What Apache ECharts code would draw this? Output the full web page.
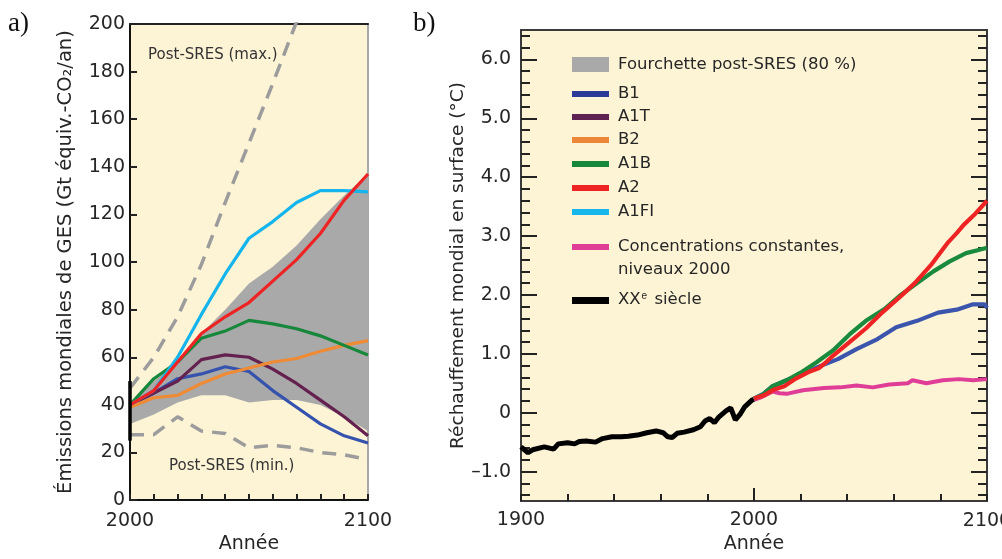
<!DOCTYPE html>
<html>
<head>
<meta charset="utf-8">
<script src="https://cdn.jsdelivr.net/npm/echarts@6/dist/echarts.min.js"></script>
<style>
html, body { margin: 0; padding: 0; background: #fff; }
#main { width: 1002px; height: 559px; }
</style>
</head>
<body>
<div id="main"></div>
<script>
var dom = document.getElementById("main");
var myChart = echarts.init(dom);

// --- a) emissions, every 10 years
var years = [2000, 2010, 2020, 2030, 2040, 2050, 2060, 2070, 2080, 2090, 2100];
var emB1   = [40, 45, 51, 53, 56, 54, 46, 39, 32, 27, 24];
var emA1T  = [40, 45, 50, 59, 61, 60, 55, 49, 42, 35, 27];
var emB2   = [39, 43, 44, 49, 53, 55.5, 58, 59.5, 62.5, 65, 67];
var emA1B  = [40, 51, 58, 68, 71, 75.5, 74, 72, 69, 65, 61];
var emA2   = [40, 46, 58, 70, 77, 83, 92, 101, 112, 126, 137];
var emA1FI = [40, 46, 60, 78, 95, 110, 117, 125, 130, 130, 129.5];
var bandLow  = [32, 36, 41, 44, 44, 41, 42, 42, 40, 35, 29];
var bandHigh = [40, 50, 58, 70, 80, 91, 98, 107, 118, 128, 137];
var postMax = [47, 60, 77, 99, 125, 150, 175, 201, 226];
var postMin = [27.5, 27.5, 35, 29, 28, 22, 23, 22, 20, 19, 17];
var range2000 = [25, 50];

// --- b) warming
var tempXX = [[1900,-0.58],[1903,-0.68],[1905,-0.63],[1910,-0.58],[1914,-0.62],[1916,-0.53],[1920,-0.51],
  [1923,-0.53],[1925,-0.49],[1928,-0.48],[1932,-0.50],[1935,-0.44],[1939,-0.41],[1943,-0.41],[1946,-0.40],
  [1950,-0.38],[1954,-0.34],[1958,-0.31],[1961,-0.34],[1963,-0.41],[1965,-0.42],[1967,-0.35],[1970,-0.33],
  [1974,-0.29],[1977,-0.24],[1979,-0.14],[1981,-0.10],[1983,-0.17],[1985,-0.07],[1988,0.03],[1990,0.08],
  [1991,-0.02],[1992,-0.12],[1994,-0.03],[1996,0.10],[1999,0.21],[2000,0.23]];
var tempConst = [[2000,0.22],[2003,0.26],[2008,0.36],[2011,0.33],[2014,0.32],[2021,0.38],[2030,0.42],
  [2037,0.43],[2044,0.46],[2051,0.43],[2058,0.48],[2066,0.50],[2068,0.55],[2074,0.50],[2081,0.55],
  [2088,0.57],[2094,0.55],[2100,0.57]];
var tempB1 = [[2000,0.24],[2004,0.32],[2008,0.45],[2014,0.55],[2019,0.63],[2027,0.77],[2036,0.91],
  [2044,1.08],[2053,1.25],[2061,1.45],[2070,1.56],[2079,1.70],[2087,1.75],[2094,1.84],[2099,1.84],[2100,1.78]];
var tempA1B = [[2000,0.24],[2004,0.31],[2008,0.45],[2014,0.55],[2020,0.68],[2027,0.86],[2034,1.06],
  [2041,1.33],[2048,1.56],[2056,1.76],[2063,2.00],[2070,2.20],[2077,2.40],[2084,2.57],[2091,2.71],
  [2096,2.76],[2100,2.80]];
var tempA2 = [[2000,0.24],[2004,0.29],[2009,0.40],[2013,0.45],[2018,0.58],[2024,0.70],[2028,0.76],
  [2031,0.86],[2034,0.97],[2041,1.20],[2048,1.43],[2055,1.70],[2063,1.98],[2069,2.20],[2076,2.51],
  [2080,2.72],[2083,2.88],[2087,3.05],[2090,3.19],[2095,3.38],[2100,3.60]];

var tempMajor = [-1, 0, 1, 2, 3, 4, 5, 6];
var tempMinor = [-1.4, -1.2, -0.8, -0.6, -0.4, -0.2, 0.2, 0.4, 0.6, 0.8, 1.2, 1.4, 1.6, 1.8,
  2.2, 2.4, 2.6, 2.8, 3.2, 3.4, 3.6, 3.8, 4.2, 4.4, 4.6, 4.8, 5.2, 5.4, 5.6, 5.8, 6.2, 6.4];

var legendNames = ['B1', 'A1T', 'B2', 'A1B', 'A2', 'A1FI'];
var legendColors = ['#2b3a96', '#5e2152', '#ec8638', '#17873b', '#ee2424', '#19b6ec'];

var FONT = 'DejaVu Sans';
var BG = '#fdf4d6';
var TXT = '#262626';

function pairs(xs, ys) {
	var out = [];
	for (var i = 0; i < ys.length; i++) out.push([xs[i], ys[i]]);
	return out;
}

function emLine(name, ys, color) {
	return {
		name: name, type: 'line', xAxisIndex: 0, yAxisIndex: 0,
		data: pairs(years, ys), symbol: 'none',
		lineStyle: { color: color, width: 3.2 }, z: 5
	};
}
function tempLine(name, data, color, w) {
	return {
		name: name, type: 'line', xAxisIndex: 2, yAxisIndex: 2,
		data: data, symbol: 'none',
		lineStyle: { color: color, width: w || 4.2 }, z: 5
	};
}
// 2100 of panel b is written as a graphic text below: as an axis label it
// runs past the page edge and echarts then shrinks the grid
function yearLabel(v) {
	return (v === 1900 || v === 2000) ? String(v) : '';
}

// legend of panel b
var legendY = [94, 117, 140, 164, 188, 212];
var LF = '16.5px "DejaVu Sans"';
var graphics = [
	{ type: 'text', left: 8, top: 10, style: { text: 'a)', font: '27px "Liberation Serif"', fill: '#111' } },
	{ type: 'text', left: 413, top: 10, style: { text: 'b)', font: '27px "Liberation Serif"', fill: '#111' } },
	{ type: 'text', left: 148, top: 48, style: { text: 'Post-SRES (max.)', font: '15px "DejaVu Sans"', fill: '#333' } },
	{ type: 'text', left: 169, top: 459, style: { text: 'Post-SRES (min.)', font: '15px "DejaVu Sans"', fill: '#333' } },
	{ type: 'text', x: 987, y: 521, style: { text: '2100', font: '19px "DejaVu Sans"', fill: TXT, align: 'center', verticalAlign: 'middle' } },
	{ type: 'rect', shape: { x: 572, y: 57, width: 37, height: 15 }, style: { fill: '#a9a9a9' } },
	{ type: 'text', x: 618, y: 65, style: { text: 'Fourchette post-SRES (80 %)', font: LF, fill: TXT, verticalAlign: 'middle' } }
];
for (var i = 0; i < legendNames.length; i++) {
	graphics.push({ type: 'rect', shape: { x: 572, y: legendY[i] - 3, width: 37, height: 6 }, style: { fill: legendColors[i] } });
	graphics.push({ type: 'text', x: 618, y: legendY[i], style: { text: legendNames[i], font: LF, fill: TXT, verticalAlign: 'middle' } });
}
graphics.push({ type: 'rect', shape: { x: 572, y: 244, width: 37, height: 6 }, style: { fill: '#e03d97' } });
graphics.push({ type: 'text', x: 618, y: 247, style: { text: 'Concentrations constantes,', font: LF, fill: TXT, verticalAlign: 'middle' } });
graphics.push({ type: 'text', x: 618, y: 270, style: { text: 'niveaux 2000', font: LF, fill: TXT, verticalAlign: 'middle' } });
graphics.push({ type: 'rect', shape: { x: 572, y: 297, width: 37, height: 7 }, style: { fill: '#000' } });
graphics.push({ type: 'text', x: 618, y: 300, style: {
	text: 'XX{sup|e} siècle', font: LF, fill: TXT, verticalAlign: 'middle',
	rich: { sup: { fontSize: 10, verticalAlign: 'top', padding: [0, 2, 8, 1], fill: TXT } }
} });

var tickStyle = { color: '#222', width: 2 };
var noAxis = { show: false };

option = {
	animation: false,
	textStyle: { fontFamily: FONT },
	grid: [
		{ left: 130, top: 24, width: 238, height: 479, show: true, backgroundColor: BG, borderWidth: 0 },
		{ left: 521, top: 30, width: 466, height: 474, show: true, backgroundColor: BG, borderColor: '#3a3a3a', borderWidth: 2 },
		// twin of grid 1, only for the minor ticks; same (invisible) labels so it gets the same layout
		{ left: 521, top: 30, width: 466, height: 474, show: false }
	],
	xAxis: [{
		gridIndex: 0, type: 'value', min: 2000, max: 2100, interval: 10,
		axisLine: { onZero: false, lineStyle: { color: '#111', width: 2 } },
		axisTick: { inside: true, length: 6, lineStyle: tickStyle },
		axisLabel: {
			fontSize: 19, color: TXT, margin: 11, fontFamily: FONT,
			formatter: function (v) { return (v === 2000 || v === 2100) ? String(v) : ''; }
		},
		splitLine: { show: false },
		name: 'Année', nameLocation: 'middle', nameGap: 34,
		nameTextStyle: { fontSize: 19, color: TXT, fontFamily: FONT }
	}, {
		gridIndex: 0, type: 'value', min: 2000, max: 2100, position: 'top',
		axisLine: { onZero: false, lineStyle: { color: '#222', width: 2 } },
		axisTick: noAxis, axisLabel: noAxis, splitLine: noAxis
	}, {
		gridIndex: 1, type: 'value', min: 1900, max: 2100, interval: 20,
		axisLine: { show: false, onZero: false },
		axisTick: { inside: true, length: 7, lineStyle: tickStyle },
		axisLabel: { fontSize: 19, color: TXT, margin: 10, fontFamily: FONT, formatter: yearLabel },
		splitLine: { show: false },
		name: 'Année', nameLocation: 'middle', nameGap: 34,
		nameTextStyle: { fontSize: 19, color: TXT, fontFamily: FONT }
	}, {
		gridIndex: 2, type: 'value', min: 1900, max: 2100, interval: 20,
		axisLine: { show: false, onZero: false },
		axisTick: { show: true, inside: true, length: 13, customValues: [2000], lineStyle: tickStyle },
		axisLabel: { fontSize: 19, color: 'rgba(0,0,0,0)', margin: 10, fontFamily: FONT, formatter: yearLabel },
		splitLine: noAxis,
		name: 'Année', nameLocation: 'middle', nameGap: 34,
		nameTextStyle: { fontSize: 19, color: 'rgba(0,0,0,0)', fontFamily: FONT }
	}],
	yAxis: [{
		gridIndex: 0, type: 'value', min: 0, max: 200, interval: 20,
		axisLine: { show: true, lineStyle: { color: '#111', width: 2 } },
		axisTick: { show: true, inside: true, length: 7, lineStyle: tickStyle },
		axisLabel: { fontSize: 19, color: TXT, margin: 5, fontFamily: FONT },
		splitLine: { show: false },
		name: 'Émissions mondiales de GES (Gt équiv.-CO₂/an)', nameLocation: 'middle', nameGap: 54,
		nameTextStyle: { fontSize: 19.5, color: TXT, fontFamily: FONT }
	}, {
		gridIndex: 0, type: 'value', min: 0, max: 200, position: 'right',
		axisLine: { show: true, lineStyle: { color: '#a8a8a8', width: 2 } },
		axisTick: noAxis, axisLabel: noAxis, splitLine: noAxis
	}, {
		gridIndex: 1, type: 'value', min: -1.5, max: 6.5, position: 'left',
		axisLine: { show: false },
		axisTick: { show: true, inside: true, length: 16, customValues: tempMajor, lineStyle: tickStyle },
		axisLabel: {
			fontSize: 19, color: TXT, margin: 10, fontFamily: FONT, customValues: tempMajor,
			formatter: function (v) { return v === 0 ? '0' : (v < 0 ? '\u2013' + Math.abs(v).toFixed(1) : v.toFixed(1)); }
		},
		splitLine: { show: false },
		name: 'Réchauffement mondial en surface (°C)', nameLocation: 'middle', nameGap: 53,
		nameTextStyle: { fontSize: 18.5, color: TXT, fontFamily: FONT }
	}, {
		gridIndex: 1, type: 'value', min: -1.5, max: 6.5, position: 'right',
		axisLine: { show: false },
		axisTick: { show: true, inside: true, length: 16, customValues: tempMajor, lineStyle: tickStyle },
		axisLabel: noAxis, splitLine: noAxis
	}, {
		gridIndex: 2, type: 'value', min: -1.5, max: 6.5, position: 'left',
		axisLine: { show: false },
		axisTick: { show: true, inside: true, length: 9, customValues: tempMinor, lineStyle: tickStyle },
		axisLabel: noAxis, splitLine: noAxis
	}, {
		gridIndex: 2, type: 'value', min: -1.5, max: 6.5, position: 'right',
		axisLine: { show: false },
		axisTick: { show: true, inside: true, length: 9, customValues: tempMinor, lineStyle: tickStyle },
		axisLabel: noAxis, splitLine: noAxis
	}],
	graphic: graphics,
	series: [
		{
			name: 'Fourchette post-SRES (80 %)', type: 'custom', xAxisIndex: 0, yAxisIndex: 0,
			data: pairs(years, bandLow), z: 2,
			renderItem: function (params, api) {
				if (params.dataIndex !== 0) return;
				var pts = [];
				for (var k = 0; k < years.length; k++) pts.push(api.coord([years[k], bandHigh[k]]));
				for (var k = years.length - 1; k >= 0; k--) pts.push(api.coord([years[k], bandLow[k]]));
				return { type: 'polygon', shape: { points: pts }, style: { fill: '#a9a9a9' } };
			}
		}, {
			name: 'Post-SRES (max.)', type: 'line', xAxisIndex: 0, yAxisIndex: 0,
			data: pairs(years, postMax), symbol: 'none',
			lineStyle: { color: '#9c9c9c', width: 3.5, type: [14, 9] }, z: 3
		}, {
			name: 'Post-SRES (min.)', type: 'line', xAxisIndex: 0, yAxisIndex: 0,
			data: pairs(years, postMin), symbol: 'none',
			lineStyle: { color: '#9c9c9c', width: 3.5, type: [14, 9] }, z: 3
		}, {
			name: 'range2000', type: 'line', xAxisIndex: 0, yAxisIndex: 0, clip: false,
			data: [[2000, range2000[0]], [2000, range2000[1]]], symbol: 'none',
			lineStyle: { color: '#000', width: 3.5 }, z: 6
		},
		emLine('B1', emB1, '#3552ad'),
		emLine('A1T', emA1T, '#64204f'),
		emLine('B2', emB2, '#ef8a35'),
		emLine('A1B', emA1B, '#17873b'),
		emLine('A1FI', emA1FI, '#13b5ec'),
		emLine('A2', emA2, '#ee2424'),
		tempLine('XXe siècle', tempXX, '#000', 5),
		tempLine('Concentrations constantes', tempConst, '#e03d97', 4),
		tempLine('B1 T', tempB1, '#3b55ad'),
		tempLine('A1B T', tempA1B, '#1a8a3d'),
		tempLine('A2 T', tempA2, '#ee2424')
	]
};

if (option && typeof option === "object") {
	myChart.setOption(option, true);
}
</script>
</body>
</html>
